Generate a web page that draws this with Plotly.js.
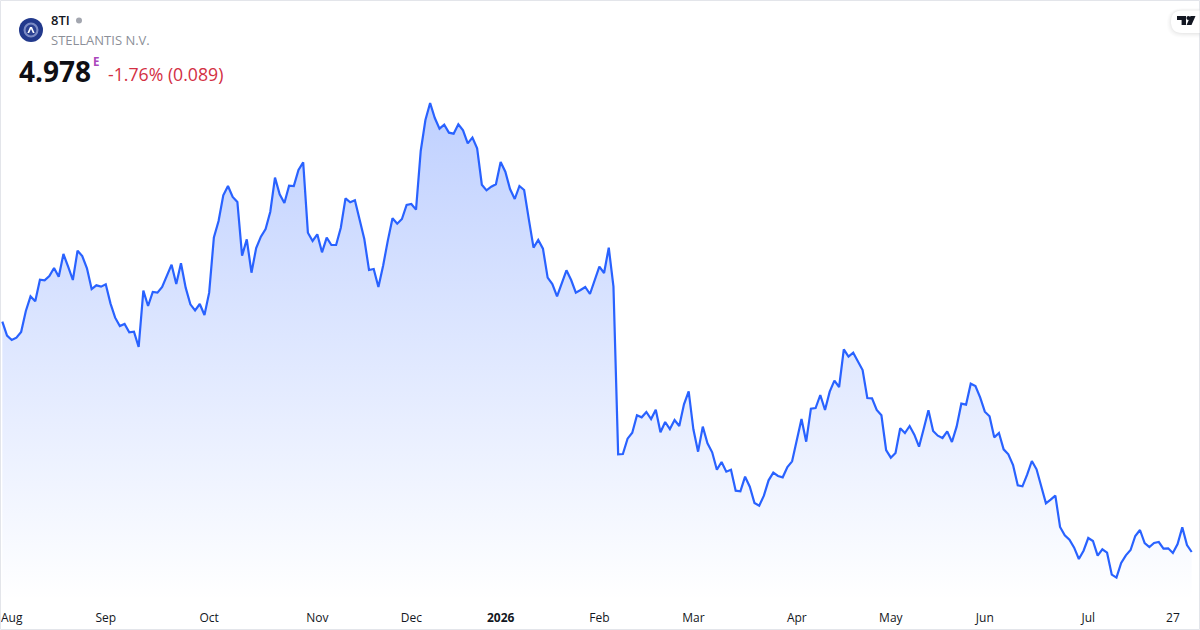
<!DOCTYPE html>
<html>
<head>
<meta charset="utf-8">
<script src="https://cdn.plot.ly/plotly-3.0.1.min.js"></script>
<style>html,body{margin:0;padding:0;background:#fff;overflow:hidden}#chart{width:1200px;height:630px}</style>
</head>
<body>
<div id="chart"></div>
<script>
// Daily closing prices of 8TI
const pricesAugToJan = [
7.742,7.574,7.522,7.55,7.618,7.87,8.046,7.986,8.246,8.238,8.29,8.386,8.282,8.554,8.402,8.242,8.594,8.53,8.382,8.134,
8.178,8.162,8.19,7.962,7.79,7.69,7.714,7.614,7.622,7.438,8.114,7.93,8.098,8.09,8.158,8.294,8.426,8.194,8.442,8.15,
7.95,7.878,7.954,7.822,8.09,8.754,8.95,9.258,9.37,9.238,9.178,8.534,8.73,8.33,8.626,8.762,8.854,9.062,9.47,9.27,
9.166,9.374,9.37,9.562,9.654,8.81,8.71,8.79,8.574,8.75,8.662,8.662,8.87,9.222,9.174,9.198,8.982,8.734,8.362,8.374,
8.158,8.414,8.714,8.982,8.918,8.974,9.142,9.154,9.086,9.79,10.162,10.366,10.186,10.058,10.106,10.01,9.998,10.11,10.038,9.882,
9.95,9.822,9.386,9.318,9.362,9.39,9.658,9.542,9.334,9.214,9.37,9.322,8.97,8.63,8.722,8.618,8.27,8.194,8.046,8.202,
8.358,8.242,8.09,8.122,8.158,8.074,8.234,8.402,8.326,8.63,8.162];
const pricesFebToJul = [
6.15,6.154,6.338,6.41,6.618,6.594,6.658,6.574,6.686,6.414,6.538,6.454,6.562,6.49,6.75,6.906,6.45,6.182,6.482,6.282,
6.174,5.966,6.058,5.942,5.966,5.714,5.706,5.882,5.762,5.566,5.534,5.654,5.838,5.93,5.89,5.874,5.998,6.066,6.302,6.574,
6.302,6.698,6.706,6.862,6.682,6.902,7.034,6.958,7.41,7.322,7.37,7.274,7.162,6.826,6.822,6.682,6.618,6.202,6.11,6.166,
6.462,6.406,6.49,6.386,6.242,6.458,6.678,6.43,6.374,6.346,6.426,6.298,6.482,6.758,6.746,6.998,6.97,6.834,6.662,6.606,
6.354,6.406,6.21,6.15,6.022,5.778,5.766,5.906,6.07,5.97,5.778,5.562,5.606,5.654,5.278,5.178,5.126,5.03,4.894,4.994,
5.146,5.11,4.934,5.01,4.97,4.706,4.67,4.846,4.938,5.002,5.17,5.242,5.086,5.038,5.086,5.098,5.018,5.022,4.966,5.074,
5.274,5.062,4.978];
const tickLabels = ['Aug','Sep','Oct','Nov','Dec','<b>2026</b>','Feb','Mar','Apr','May','Jun','Jul','27'];
const tickSessions = [2,22,44,67,87,106,127,147,169,189,209,231,249];
const symbol = '8TI';
const company = 'STELLANTIS N.V.';
const lastPrice = '4.978';
const change = '-1.76% (0.089)';

const prices = pricesAugToJan.concat(pricesFebToJul);
const sessions = prices.map((_, i) => i);

const W = 1200, H = 630, STEP = 4.701;
const px = x => x / W;
const py = y => 1 - y / H;
const FONT = '"Open Sans", sans-serif';

function pathFrom(cmds) {
  return cmds.map(c => {
    let s = c[0];
    for (let i = 1; i < c.length; i += 2) s += ' ' + px(c[i]) + ' ' + py(c[i+1]);
    return s;
  }).join(' ');
}
function shapePath(cmds, fill, opacity) {
  return {type:'path', xref:'paper', yref:'paper', path:pathFrom(cmds), fillcolor:fill,
          opacity:opacity === undefined ? 1 : opacity, line:{width:0}, layer:'above'};
}
function circle(cx, cy, r, fill) {
  return {type:'circle', xref:'paper', yref:'paper', x0:px(cx-r), x1:px(cx+r), y0:py(cy+r), y1:py(cy-r),
          fillcolor:fill, line:{width:0}, layer:'above'};
}
function text(x, y, t, size, color, weight) {
  return {xref:'paper', yref:'paper', x:px(x), y:py(y), text:t, showarrow:false,
          xanchor:'left', yanchor:'middle', borderpad:0,
          font:{family:FONT, size:size, color:color, weight:weight || 400}};
}
function tab(x0, y0, y1, r, fill) {
  return shapePath([['M',1199.5,y0],['L',x0+r,y0],['Q',x0,y0,x0,y0+r],['L',x0,y1-r],['Q',x0,y1,x0+r,y1],['L',1199.5,y1],['Z']], fill);
}

const shapes = [
  // card outline
  {type:'rect', xref:'paper', yref:'paper', x0:px(0.5), x1:px(1199.5), y0:py(629.5), y1:py(0.5),
   line:{color:'#e3e5ea', width:1}, fillcolor:'rgba(0,0,0,0)', layer:'above'},
  // logo
  circle(31, 30, 12, '#22398c'),
  circle(31, 30, 7.5, '#7b8bc4'),
  circle(31, 30, 5.4, '#2b4192'),
  shapePath([['M',27.4,33],['L',30,27],['L',32,27],['L',34.6,33],['L',32.9,33],['L',31,29.1],['L',29.1,33],['Z']], '#ffffff'),
  // status dot
  circle(79, 20.5, 3, '#a3a6af'),
  // TradingView tab shadow and body
  tab(1166.5, 8, 38, 15, 'rgba(0,0,0,0.008)'),
  tab(1167.5, 8.5, 37, 14, 'rgba(0,0,0,0.012)'),
  tab(1168.5, 9, 36, 13.5, 'rgba(0,0,0,0.015)'),
  tab(1169.5, 9.5, 35, 13, 'rgba(0,0,0,0.02)'),
  tab(1170.5, 10, 34, 12, 'rgba(0,0,0,0.025)'),
  tab(1171, 10.5, 33, 11.2, '#ffffff'),
  // TradingView glyph
  shapePath([['M',1177,16],['L',1186,16],['L',1186,25],['L',1181.6,25],['L',1181.6,20],['L',1177,20],['Z']], '#131722'),
  circle(1188.4, 18, 2, '#131722'),
  shapePath([['M',1190.5,16],['L',1195.5,16],['L',1191.5,25],['L',1186.6,25],['Z']], '#131722')
];

const annotations = [
  text(50, 20.5, symbol, 13, '#131722', 600),
  text(50, 40.5, company, 13, '#8c8f98'),
  text(18, 71, lastPrice, 28, '#0f0f14', 700),
  text(92, 61.5, 'E', 11.5, '#ab47bc', 700),
  text(107, 74, change, 17.7, '#d32f43')
];

const trace = {
  x: sessions, y: prices, type:'scatter', mode:'lines',
  line:{color:'#2962ff', width:2.2, shape:'linear'},
  fill:'tozeroy',
  fillgradient:{type:'vertical', start:10.38, stop:4.4,
    colorscale:[[0,'rgba(41,98,255,0.30)'],[1,'rgba(41,98,255,0.0)']]},
  hoverinfo:'skip'
};

const layout = {
  width:W, height:H, margin:{l:0,r:0,t:0,b:0,pad:0},
  paper_bgcolor:'#ffffff', plot_bgcolor:'#ffffff', showlegend:false,
  xaxis:{range:[-2.33/STEP, (W-2.33)/STEP], showgrid:false, zeroline:false, showline:false,
    tickmode:'array', tickvals:tickSessions, ticktext:tickLabels, ticks:'outside', ticklen:7,
    tickcolor:'rgba(0,0,0,0)', tickangle:0,
    tickfont:{family:FONT, size:12, color:'#131722'}, automargin:false, fixedrange:true},
  yaxis:{domain:[30/H,1], range:[4.402,11.602], visible:false, fixedrange:true},
  shapes:shapes, annotations:annotations
};
Plotly.newPlot('chart',[trace],layout,{staticPlot:true,displayModeBar:false});
</script>
</body>
</html>
